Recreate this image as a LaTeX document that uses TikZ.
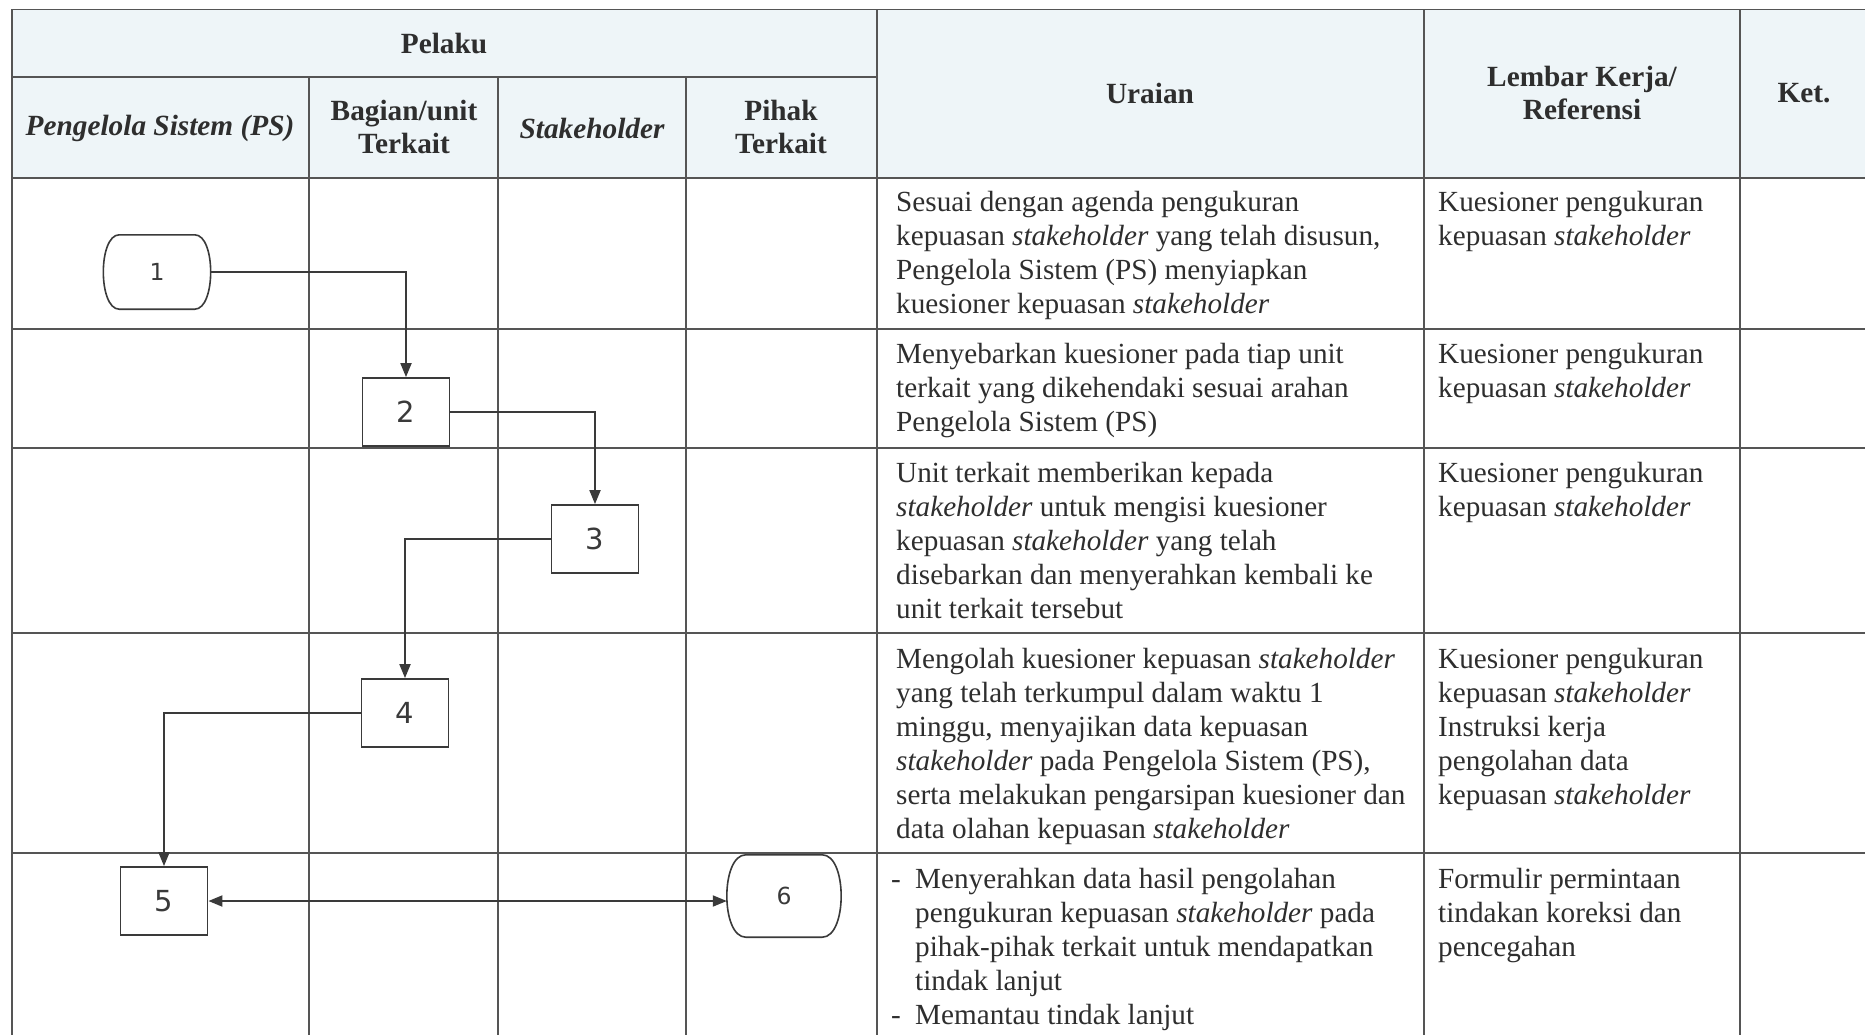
\documentclass[tikz,border=0pt]{standalone}
\usepackage{fontspec}
\setmainfont{Liberation Serif}
\newfontfamily\numfont{DejaVu Sans}
\usetikzlibrary{arrows.meta}
\definecolor{hdr}{HTML}{EEF5F8}
\definecolor{gridc}{HTML}{555555}
\definecolor{lnc}{HTML}{3A3A3A}
\definecolor{txtc}{HTML}{2E2E2E}
\begin{document}
\begin{tikzpicture}[x=1pt,y=-1pt,
  gridline/.style={draw=gridc,line width=1.4pt},
  hb/.style={font=\fontsize{29.3}{33}\selectfont\bfseries,text=txtc,align=center,inner sep=0},
  txt/.style={anchor=north west,inner sep=0,align=left,font=\fontsize{29.2}{34}\selectfont,text=txtc},
  procbox/.style={draw=lnc,line width=1.8pt,minimum width=87pt,minimum height=68pt,inner sep=0,font=\numfont\fontsize{29}{29}\selectfont,text=lnc},
  termnode/.style={draw=none,inner sep=0,font=\numfont\fontsize{23.5}{23.5}\selectfont,text=lnc},
  termline/.style={draw=lnc,line width=1.6pt},
  conn/.style={draw=lnc,line width=1.9pt,-{Triangle[length=14pt,width=11pt]}},
  conn2/.style={draw=lnc,line width=1.9pt,{Triangle[length=14pt,width=11pt]}-{Triangle[length=14pt,width=11pt]}}
]
\useasboundingbox (0,0) rectangle (1865,1035);
\fill[white] (0,0) rectangle (1865,1035);
% header background
\fill[hdr] (12,9.5) rectangle (1865,178);
% horizontal grid lines
\draw[gridline] (12,9.5) -- (1865,9.5);
\draw[gridline] (12,77) -- (877,77);
\draw[gridline] (12,178) -- (1865,178);
\foreach \yy in {329,448,633,853}{\draw[gridline] (12,\yy) -- (1865,\yy);}
% vertical grid lines
\draw[gridline] (12,9.5) -- (12,1035);
\foreach \xx in {309,498,686}{\draw[gridline] (\xx,77) -- (\xx,1035);}
\foreach \xx in {877,1424,1740}{\draw[gridline] (\xx,9.5) -- (\xx,1035);}

% header texts
\node[hb] (hpelaku) at (444,44) {Pelaku};
\node[hb] (hps) at (160,128) {\itshape Pengelola Sistem (PS)};
\node[hb] (hbag) at (404,127) {Bagian/unit\\Terkait};
\node[hb] (hstk) at (592,128) {\itshape Stakeholder};
\node[hb] (hpihak) at (781,127) {Pihak\\Terkait};
\node[hb] (hurai) at (1150,93) {Uraian};
\node[hb] (hlemb) at (1582,93) {Lembar Kerja/\\Referensi};
\node[hb] (hket) at (1804,93) {Ket.};

% description texts
\node[txt] (u1) at (896,187) {\strut Sesuai dengan agenda pengukuran\\kepuasan \textit{stakeholder} yang telah disusun,\\Pengelola Sistem (PS) menyiapkan\\kuesioner kepuasan \textit{stakeholder}};
\node[txt] (r1) at (1438,187) {\strut Kuesioner pengukuran\\kepuasan \textit{stakeholder}};

\node[txt] (u2) at (896,339) {\strut Menyebarkan kuesioner pada tiap unit\\terkait yang dikehendaki sesuai arahan\\Pengelola Sistem (PS)};
\node[txt] (r2) at (1438,339) {\strut Kuesioner pengukuran\\kepuasan \textit{stakeholder}};

\node[txt] (u3) at (896,458) {\strut Unit terkait memberikan kepada\\\textit{stakeholder} untuk mengisi kuesioner\\kepuasan \textit{stakeholder} yang telah\\disebarkan dan menyerahkan kembali ke\\unit terkait tersebut};
\node[txt] (r3) at (1438,458) {\strut Kuesioner pengukuran\\kepuasan \textit{stakeholder}};

\node[txt] (u4) at (896,644) {\strut Mengolah kuesioner kepuasan \textit{stakeholder}\\yang telah terkumpul dalam waktu 1\\minggu, menyajikan data kepuasan\\\textit{stakeholder} pada Pengelola Sistem (PS),\\serta melakukan pengarsipan kuesioner dan\\data olahan kepuasan \textit{stakeholder}};
\node[txt] (r4) at (1438,644) {\strut Kuesioner pengukuran\\kepuasan \textit{stakeholder}\\Instruksi kerja\\pengolahan data\\kepuasan \textit{stakeholder}};

\node[txt] (u5) at (891,864) {\strut\makebox[24pt][l]{-}Menyerahkan data hasil pengolahan\\\hspace*{24pt}pengukuran kepuasan \textit{stakeholder} pada\\\hspace*{24pt}pihak-pihak terkait untuk mendapatkan\\\hspace*{24pt}tindak lanjut\\\makebox[24pt][l]{-}Memantau tindak lanjut};
\node[txt] (r5) at (1438,864) {\strut Formulir permintaan\\tindakan koreksi dan\\pencegahan};

% flow shapes
\node[termnode,minimum width=107pt,minimum height=74pt] (n1) at (157,272) {1};
\draw[termline] ([xshift=16pt]n1.north west) -- ([xshift=-16pt]n1.north east)
  .. controls ([xshift=5.3pt]n1.north east) and ([xshift=5.3pt]n1.south east) .. ([xshift=-16pt]n1.south east)
  -- ([xshift=16pt]n1.south west)
  .. controls ([xshift=-5.3pt]n1.south west) and ([xshift=-5.3pt]n1.north west) .. cycle;
\node[procbox] (n2) at (406,412) {2};
\node[procbox] (n3) at (595,539) {3};
\node[procbox] (n4) at (405,713) {4};
\node[procbox] (n5) at (164,901) {5};
\node[termnode,minimum width=114pt,minimum height=82pt] (n6) at (784,896) {6};
\draw[termline] ([xshift=19pt]n6.north west) -- ([xshift=-19pt]n6.north east)
  .. controls ([xshift=6.3pt]n6.north east) and ([xshift=6.3pt]n6.south east) .. ([xshift=-19pt]n6.south east)
  -- ([xshift=19pt]n6.south west)
  .. controls ([xshift=-6.3pt]n6.south west) and ([xshift=-6.3pt]n6.north west) .. cycle;

% connectors
\draw[conn] (n1.east) -| (n2.north);
\draw[conn] (n2.east) -| (n3.north);
\draw[conn] (n3.west) -| (n4.north);
\draw[conn] (n4.west) -| (n5.north);
\draw[conn2] (n5.east) -- (n5.east -| n6.west);
\end{tikzpicture}
\end{document}
